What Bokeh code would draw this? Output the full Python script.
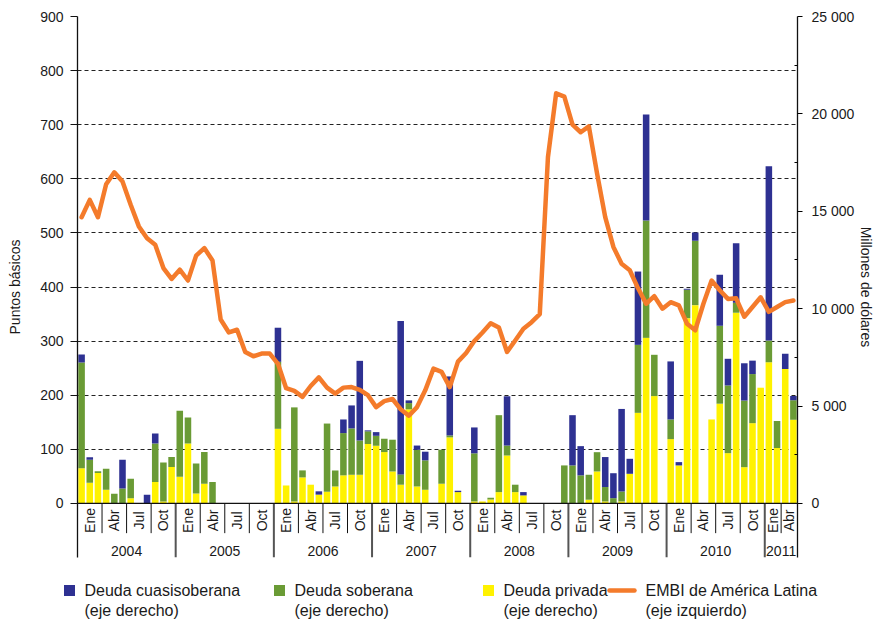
import math
import numpy as np
from bokeh.plotting import figure
from bokeh.models import Range1d, LinearAxis, FixedTicker, Span, ColumnDataSource
from bokeh.core.properties import value
from bokeh.embed import file_html
from bokeh.resources import INLINE

# ---------------- data ----------------
years = ["2004", "2005", "2006", "2007", "2008", "2009", "2010", "2011"]
quarter_labels = ["Ene", "Abr", "Jul", "Oct"]
n_months = 88  # Jan 2004 .. Apr 2011

# Millones de dólares (eje derecho)
privada = [1810, 1060, 1560, 700, 0, 0, 260, 0, 0, 1100, 100, 1870,
           1370, 3080, 510, 1010, 0, 0, 0, 0, 0, 0, 0, 0,
           3830, 920, 100, 1335, 960, 450, 600, 870, 1440, 1470, 1470, 3050,
           2960, 2635, 1640, 960, 4830, 870, 700, 0, 1010, 3390, 580, 0,
           100, 100, 200, 580, 2460, 580, 410, 0, 0, 0, 0, 0,
           0, 0, 190, 1640, 100, 0, 100, 1520, 4650, 8500, 5510, 0,
           3300, 1950, 9510, 10180, 0, 4310, 5120, 2580, 9790, 1860, 4120, 5940,
           7250, 2840, 6900, 4300]
soberana = [5430, 1180, 90, 1080, 500, 770, 1010, 0, 0, 1980, 2000, 510,
            3390, 1335, 1540, 1625, 1100, 0, 0, 0, 0, 0, 0, 0,
            3440, 0, 4830, 360, 0, 0, 3500, 820, 2170, 2380, 1760, 650,
            510, 685, 1630, 530, 320, 1880, 1510, 0, 1745, 100, 0, 0,
            2470, 0, 90, 3950, 510, 380, 0, 0, 0, 0, 0, 1950,
            1950, 1440, 1280, 990, 740, 270, 510, 0, 3490, 6030, 2120, 0,
            1010, 0, 1460, 3300, 0, 0, 4000, 3475, 510, 3420, 2520, 0,
            1110, 1390, 0, 990]
cuasi = [400, 130, 0, 0, 0, 1470, 0, 0, 450, 510, 0, 0,
         0, 0, 0, 0, 0, 0, 0, 0, 0, 0, 0, 0,
         1750, 0, 0, 0, 0, 170, 0, 0, 700, 1180, 4090, 50,
         190, 0, 0, 7870, 140, 220, 445, 0, 0, 3030, 70, 0,
         1330, 0, 0, 0, 2530, 0, 170, 0, 0, 0, 0, 0,
         2580, 1500, 0, 0, 1540, 1280, 4240, 770, 3765, 5440, 0, 0,
         2980, 170, 50, 430, 0, 0, 2620, 1370, 3060, 1915, 690, 0,
         8950, 0, 790, 220]
# Puntos básicos (eje izquierdo)
embi = [529, 561, 529, 590, 612, 595, 552, 512, 490, 478, 435, 415,
        432, 412, 458, 472, 449, 340, 316, 321, 280, 272, 277, 277,
        258, 213, 208, 197, 217, 233, 214, 203, 214, 215, 210, 200,
        178, 189, 193, 174, 162, 178, 209, 249, 243, 215, 262, 278,
        300, 316, 333, 325, 280, 301, 323, 335, 350, 640, 758, 752,
        700, 686, 697, 610, 529, 474, 443, 431, 398, 369, 383, 360,
        372, 366, 332, 320, 369, 412, 394, 378, 379, 345, 363, 381,
        354, 363, 372, 375]

left_ticks = [0, 100, 200, 300, 400, 500, 600, 700, 800, 900]
right_ticks = [0, 5000, 10000, 15000, 20000, 25000]
right_minor = [2500, 7500, 12500, 17500, 22500]

legend_names = [("Deuda cuasisoberana", "(eje derecho)"),
                ("Deuda soberana", "(eje derecho)"),
                ("Deuda privada", "(eje derecho)"),
                ("EMBI de América Latina", "(eje izquierdo)")]

# ---------------- style ----------------
FONT = "Liberation Sans"
BLUE = "#2E3192"
GREEN = "#6A9B35"
YELLOW = "#FFF200"
ORANGE = "#F47B2B"
TXT = "#1a1a1a"

LEFT_MAX = 900
RIGHT_MAX = 25000
BELOW = 100  # space under zero (left units) for the category labels

month_idx = list(range(n_months))
src = ColumnDataSource(dict(x=month_idx, privada=privada, soberana=soberana, cuasi=cuasi))

p = figure(width=885, height=560, output_backend="svg", toolbar_location=None,
           x_range=Range1d(-0.5, n_months - 0.5), y_range=Range1d(-BELOW, LEFT_MAX),
           x_axis_location=None, min_border_left=77, min_border_right=88,
           min_border_top=16, min_border_bottom=3)
p.extra_y_ranges = {"right": Range1d(-BELOW * RIGHT_MAX / LEFT_MAX, RIGHT_MAX)}
p.outline_line_color = None
p.background_fill_color = "white"

# left axis
ya = p.yaxis[0]
ya.ticker = FixedTicker(ticks=left_ticks, minor_ticks=[])
ya.axis_label = "Puntos básicos"
ya.axis_label_text_font = FONT
ya.axis_label_text_font_size = "14px"
ya.axis_label_text_font_style = "normal"
ya.axis_label_text_color = TXT
ya.axis_label_standoff = 14
ya.major_label_text_font = FONT
ya.major_label_text_font_size = "14px"
ya.major_label_text_color = TXT
ya.major_label_standoff = 7
ya.major_tick_out = 7
ya.major_tick_in = 0
ya.minor_tick_out = 0
ya.minor_tick_in = 0
ya.axis_line_color = "#111111"
ya.axis_line_width = 1.3
ya.major_tick_line_color = "#111111"

# right axis
ra = LinearAxis(y_range_name="right",
                ticker=FixedTicker(ticks=right_ticks, minor_ticks=right_minor))
ra.major_label_overrides = {t: f"{t:,}".replace(",", " ") for t in right_ticks}
ra.axis_label = "Millones de dólares"
ra.axis_label_text_font = FONT
ra.axis_label_text_font_size = "14px"
ra.axis_label_text_font_style = "normal"
ra.axis_label_text_color = TXT
ra.axis_label_standoff = 1
ra.major_label_text_font = FONT
ra.major_label_text_font_size = "14px"
ra.major_label_text_color = TXT
ra.major_label_standoff = 9
ra.major_tick_out = 5
ra.major_tick_in = 0
ra.minor_tick_out = 0
ra.minor_tick_in = 3
ra.axis_line_color = "#111111"
ra.axis_line_width = 1.3
p.add_layout(ra, "right")

# grid
p.xgrid.visible = False
p.ygrid.ticker = FixedTicker(ticks=[t for t in left_ticks if t > 0])
p.ygrid.grid_line_color = "#222222"
p.ygrid.grid_line_dash = "4 3"
p.ygrid.grid_line_width = 1

# bars
p.vbar_stack(["privada", "soberana", "cuasi"], x="x", width=0.8, source=src,
             fill_color=[YELLOW, GREEN, BLUE], line_color=None, y_range_name="right")

# EMBI line
p.line(month_idx, embi, line_color=ORANGE, line_width=4.5, line_join="round", line_cap="round")

# zero axis line
p.add_layout(Span(location=0, dimension="width", line_color="#111111", line_width=1.3))

# category axis (two levels) drawn inside the extended frame
q_x, q_text, sep_x, yr_x, yr_sep = [], [], [], [], []
for k in range(len(years)):
    start = 12 * k - 0.5
    m = min(12, n_months - 12 * k)
    groups = math.ceil(m / 3)
    w = m / groups
    for j in range(groups):
        q_x.append(start + w * (j + 0.5))
        q_text.append(quarter_labels[j])
        if j > 0:
            sep_x.append(start + w * j)
    yr_x.append(start + m / 2)
    if k > 0:
        yr_sep.append(start)

p.text(x=q_x, y=[-31.5] * len(q_x), text=q_text, angle=np.pi / 2,
       text_align="center", text_baseline="middle", text_font=value(FONT),
       text_font_size="14px", text_color=TXT)
p.segment(x0=sep_x, y0=[0] * len(sep_x), x1=sep_x, y1=[-55] * len(sep_x),
          line_color="#111111", line_width=1)
p.segment(x0=yr_sep, y0=[0] * len(yr_sep), x1=yr_sep, y1=[-BELOW] * len(yr_sep),
          line_color="#555555", line_width=2)
p.text(x=yr_x, y=[-88] * len(years), text=years, text_align="center",
       text_baseline="middle", text_font=value(FONT), text_font_size="14px",
       text_color=TXT)

# ---------------- legend (separate strip below) ----------------
lf = figure(width=885, height=62, output_backend="svg", toolbar_location=None,
            x_range=Range1d(0, 885), y_range=Range1d(62, 0),
            x_axis_location=None, y_axis_location=None, min_border=0)
lf.outline_line_color = None
lf.grid.visible = False

sq_x = [69, 279, 488]
lf.scatter(x=sq_x, y=[30] * 3, marker="square", size=11,
           fill_color=[BLUE, GREEN, YELLOW], line_color=None)
lf.segment(x0=[609], y0=[30], x1=[634], y1=[30], line_color=ORANGE, line_width=4.5,
           line_cap="round")
tx = [84, 294, 503, 645]
lf.text(x=tx, y=[30] * 4, text=[n[0] for n in legend_names], text_baseline="middle",
        text_font=value(FONT), text_font_size="16px", text_color=TXT)
lf.text(x=tx, y=[50] * 4, text=[n[1] for n in legend_names], text_baseline="middle",
        text_font=value(FONT), text_font_size="16px", text_color=TXT)

open("out.html", "w").write(file_html([p, lf], INLINE))
